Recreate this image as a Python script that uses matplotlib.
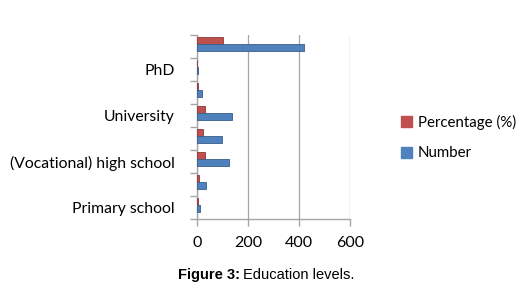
import matplotlib
matplotlib.use("Agg")
from matplotlib import pyplot as plt
from matplotlib.patches import Patch
import numpy as np

# categories bottom to top; only every other one carries a label
categories = ["Primary school", "", "(Vocational) high school", "",
              "University", "", "PhD", ""]
number = [12, 36, 124, 97, 138, 18, 4, 418]
percentage = [3, 9, 30, 23, 33, 4, 1, 100]
x_ticks = [0, 200, 400, 600]

red = "#C0504D"
blue = "#4F81BD"
grey = "#A6A6A6"

fig = plt.figure(figsize=(5.23, 2.96), dpi=100)
ax = fig.add_axes([0.3767, 0.26, 0.2925, 0.6216])

y = np.arange(len(categories))
h = 0.3
ax.barh(y + 0.12 + h / 2, percentage, height=h, color=red,
        edgecolor="#8C3836", linewidth=0.6, zorder=3)
ax.barh(y + 0.12 - h / 2, number, height=h, color=blue,
        edgecolor="#385D8A", linewidth=0.6, zorder=3)

ax.set_xlim(0, 600)
ax.set_ylim(-0.5, len(categories) - 0.5)
ax.set_xticks(x_ticks)
ax.set_xticklabels([str(v) for v in x_ticks], fontfamily="Lato", fontsize=11.5)
ax.set_yticks(y)
ax.set_yticklabels(categories, fontfamily="Lato", fontsize=11.3)
ax.tick_params(axis="y", length=0, pad=16)
ax.set_yticks(np.arange(len(categories) + 1) - 0.5, minor=True)
ax.tick_params(axis="y", which="minor", length=5, color=grey, width=1)
ax.tick_params(axis="x", length=5, color=grey, width=1, pad=7)

ax.grid(axis="x", color=grey, linewidth=0.9, zorder=0)
for side in ["top", "right"]:
    ax.spines[side].set_visible(False)
for side in ["left", "bottom"]:
    ax.spines[side].set_color(grey)
    ax.spines[side].set_linewidth(1)

handles = [Patch(color=red, label="Percentage (%)"),
           Patch(color=blue, label="Number")]
fig.legend(handles=handles, loc="center left", bbox_to_anchor=(0.74, 0.535),
           frameon=False, handlelength=0.75, handleheight=0.75,
           labelspacing=1.1, handletextpad=0.4,
           prop={"family": "Lato", "size": 10.8})

fig.text(0.459, 0.07, "Figure 3:", ha="right", va="center", fontsize=10.5,
         fontweight="bold", fontfamily="Liberation Sans")
fig.text(0.464, 0.07, "Education levels.", ha="left", va="center",
         fontsize=10.5, fontfamily="Liberation Sans")

fig.savefig("out.png", dpi=100)
